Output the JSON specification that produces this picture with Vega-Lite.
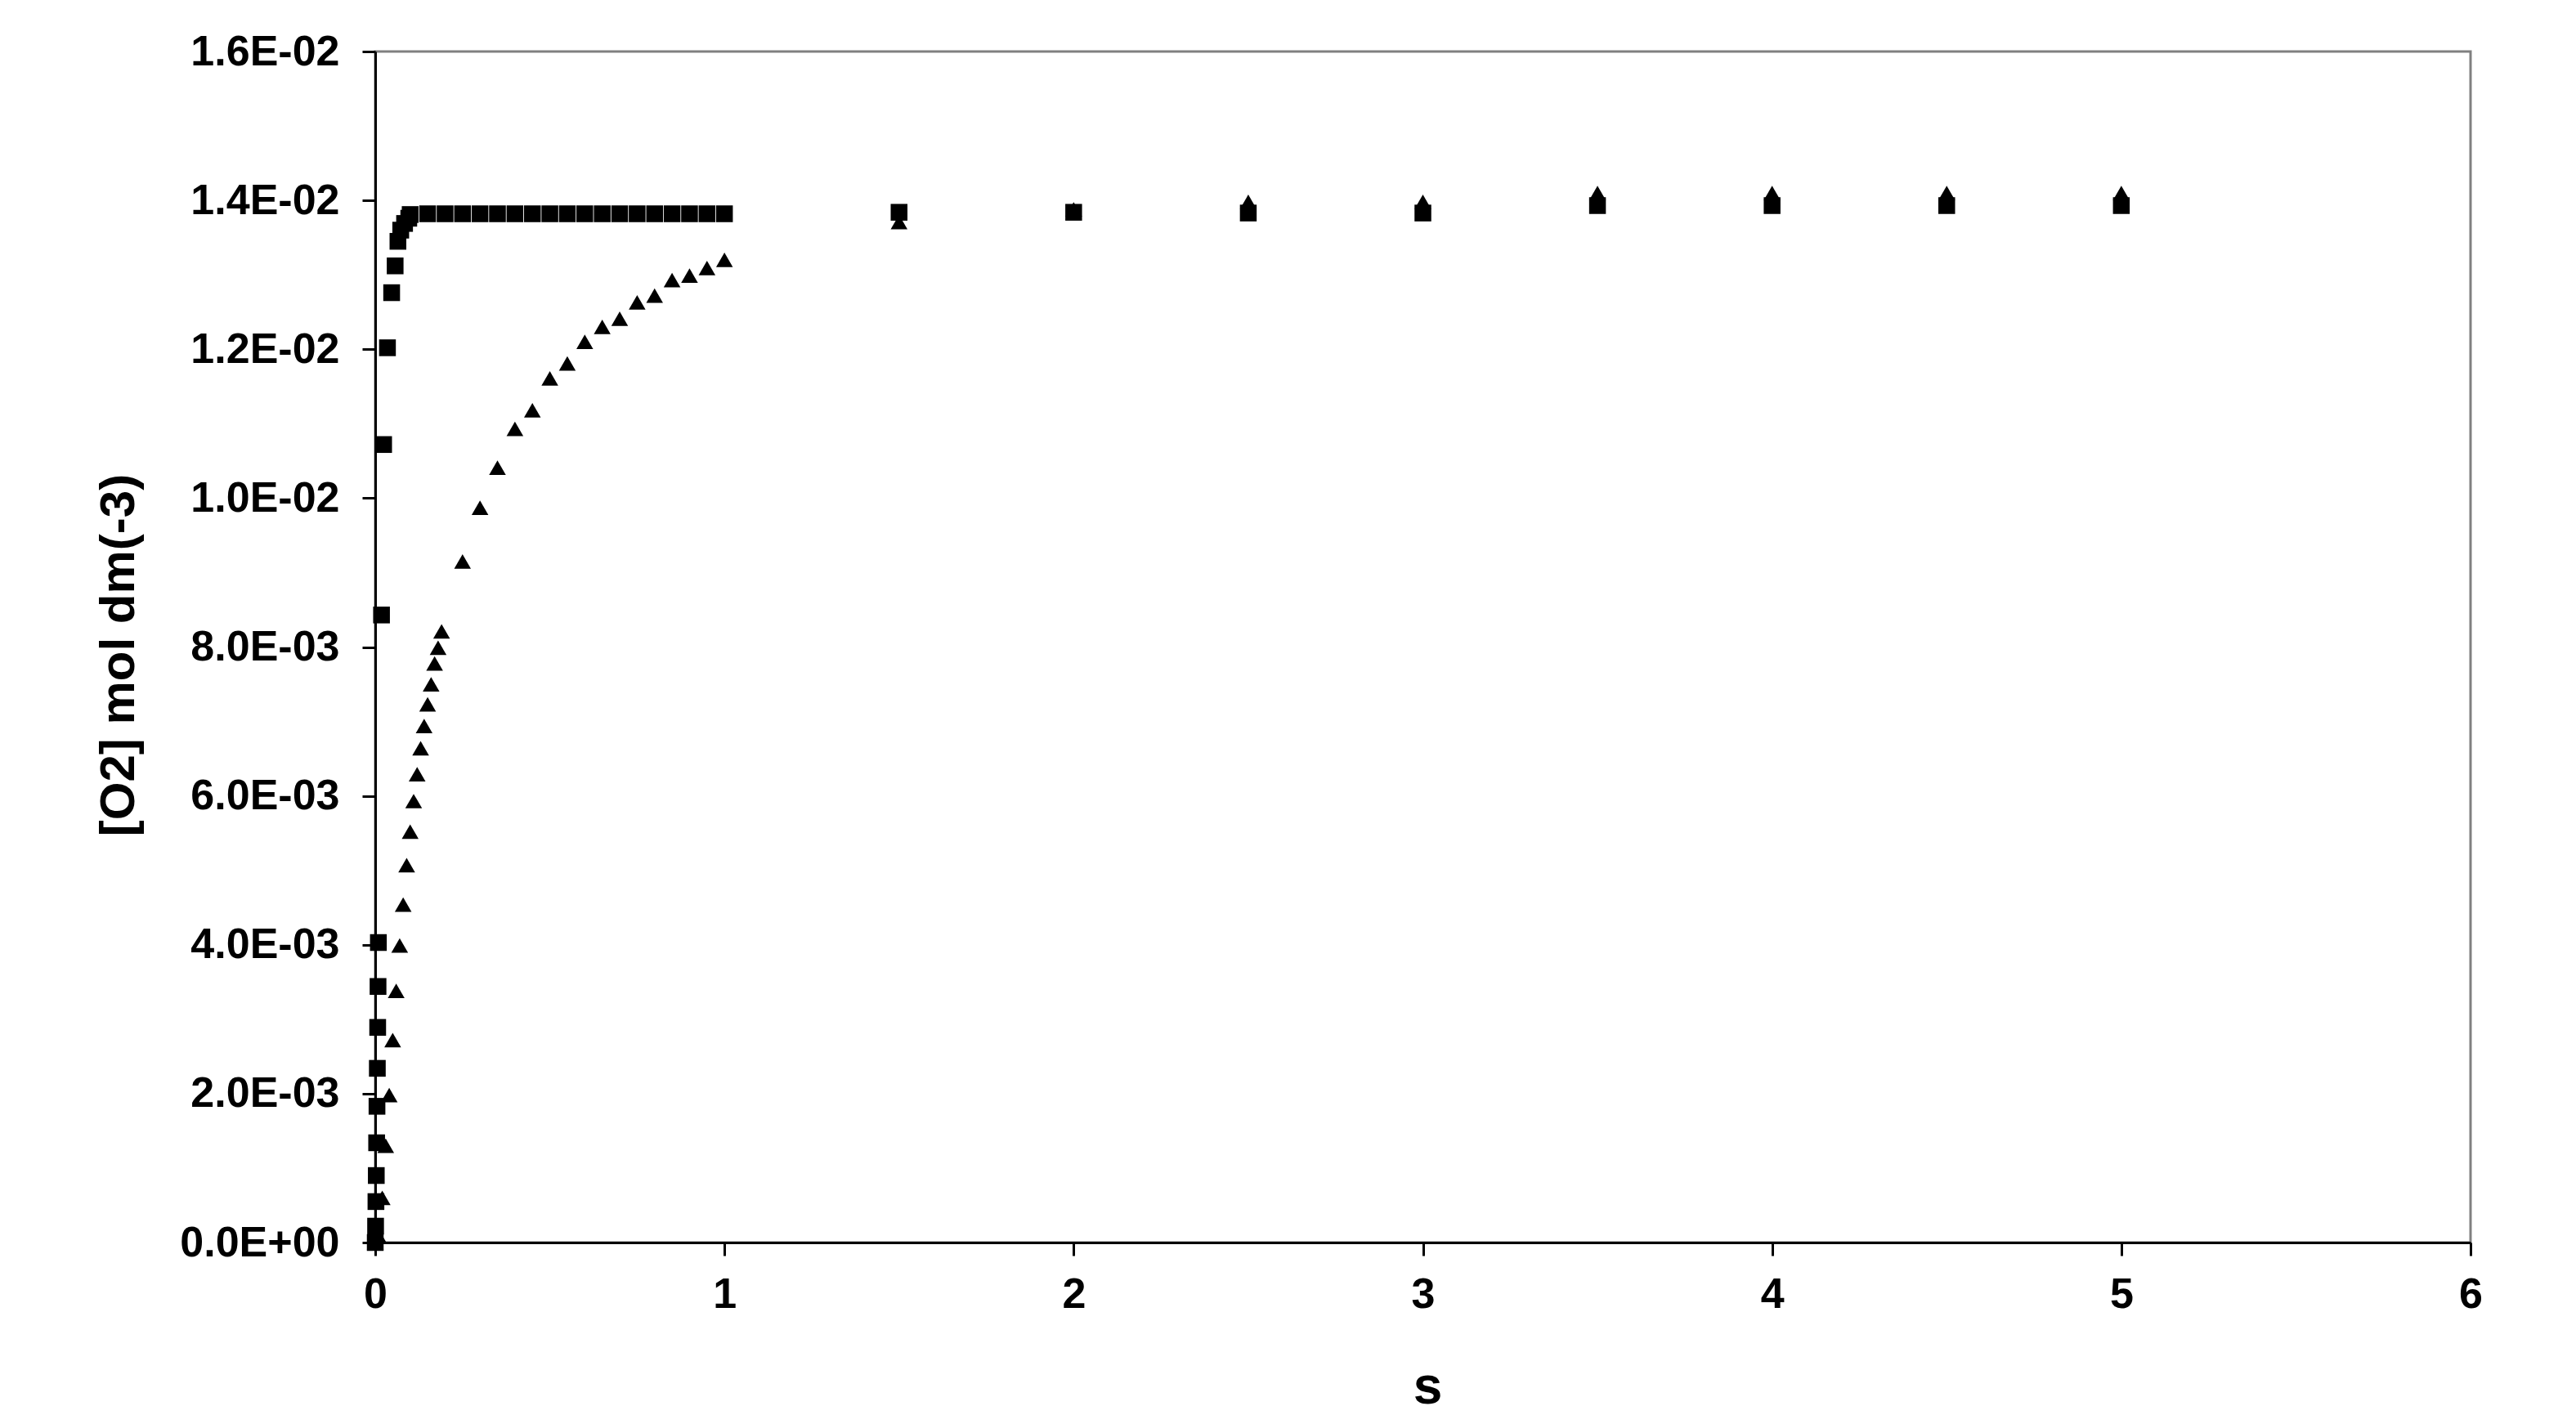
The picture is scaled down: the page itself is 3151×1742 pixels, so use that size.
{
  "$schema": "https://vega.github.io/schema/vega-lite/v6.json",
  "width": 2563,
  "height": 1457,
  "autosize": {"type": "none"},
  "padding": {"left": 459, "top": 63, "right": 129, "bottom": 222},
  "background": "white",
  "data": {
    "values": [
      {"s": 0.000, "o2": 0.00000, "series": "sq"},
      {"s": 0.001, "o2": 0.00022, "series": "sq"},
      {"s": 0.002, "o2": 0.00055, "series": "sq"},
      {"s": 0.003, "o2": 0.00090, "series": "sq"},
      {"s": 0.004, "o2": 0.00134, "series": "sq"},
      {"s": 0.005, "o2": 0.00183, "series": "sq"},
      {"s": 0.006, "o2": 0.00234, "series": "sq"},
      {"s": 0.007, "o2": 0.00289, "series": "sq"},
      {"s": 0.008, "o2": 0.00344, "series": "sq"},
      {"s": 0.009, "o2": 0.00403, "series": "sq"},
      {"s": 0.018, "o2": 0.00843, "series": "sq"},
      {"s": 0.024, "o2": 0.01072, "series": "sq"},
      {"s": 0.035, "o2": 0.01202, "series": "sq"},
      {"s": 0.047, "o2": 0.01276, "series": "sq"},
      {"s": 0.057, "o2": 0.01312, "series": "sq"},
      {"s": 0.065, "o2": 0.01345, "series": "sq"},
      {"s": 0.073, "o2": 0.01360, "series": "sq"},
      {"s": 0.084, "o2": 0.01369, "series": "sq"},
      {"s": 0.096, "o2": 0.01376, "series": "sq"},
      {"s": 0.10, "o2": 0.01381, "series": "sq"},
      {"s": 0.15, "o2": 0.01382, "series": "sq"},
      {"s": 0.20, "o2": 0.01382, "series": "sq"},
      {"s": 0.25, "o2": 0.01382, "series": "sq"},
      {"s": 0.30, "o2": 0.01382, "series": "sq"},
      {"s": 0.35, "o2": 0.01382, "series": "sq"},
      {"s": 0.40, "o2": 0.01382, "series": "sq"},
      {"s": 0.45, "o2": 0.01382, "series": "sq"},
      {"s": 0.50, "o2": 0.01382, "series": "sq"},
      {"s": 0.55, "o2": 0.01382, "series": "sq"},
      {"s": 0.60, "o2": 0.01382, "series": "sq"},
      {"s": 0.65, "o2": 0.01382, "series": "sq"},
      {"s": 0.70, "o2": 0.01382, "series": "sq"},
      {"s": 0.75, "o2": 0.01382, "series": "sq"},
      {"s": 0.80, "o2": 0.01382, "series": "sq"},
      {"s": 0.85, "o2": 0.01382, "series": "sq"},
      {"s": 0.90, "o2": 0.01382, "series": "sq"},
      {"s": 0.95, "o2": 0.01382, "series": "sq"},
      {"s": 1.00, "o2": 0.01382, "series": "sq"},
      {"s": 1.5, "o2": 0.01384, "series": "sq"},
      {"s": 2.0, "o2": 0.01384, "series": "sq"},
      {"s": 2.5, "o2": 0.01383, "series": "sq"},
      {"s": 3.0, "o2": 0.01383, "series": "sq"},
      {"s": 3.5, "o2": 0.01393, "series": "sq"},
      {"s": 4.0, "o2": 0.01393, "series": "sq"},
      {"s": 4.5, "o2": 0.01393, "series": "sq"},
      {"s": 5.0, "o2": 0.01393, "series": "sq"},
      {"s": 0.00, "o2": 0.00000, "series": "tri"},
      {"s": 0.01, "o2": 0.00008, "series": "tri"},
      {"s": 0.02, "o2": 0.00060, "series": "tri"},
      {"s": 0.03, "o2": 0.00130, "series": "tri"},
      {"s": 0.04, "o2": 0.00198, "series": "tri"},
      {"s": 0.05, "o2": 0.00272, "series": "tri"},
      {"s": 0.06, "o2": 0.00338, "series": "tri"},
      {"s": 0.07, "o2": 0.00399, "series": "tri"},
      {"s": 0.08, "o2": 0.00454, "series": "tri"},
      {"s": 0.09, "o2": 0.00507, "series": "tri"},
      {"s": 0.10, "o2": 0.00552, "series": "tri"},
      {"s": 0.11, "o2": 0.00593, "series": "tri"},
      {"s": 0.12, "o2": 0.00629, "series": "tri"},
      {"s": 0.13, "o2": 0.00664, "series": "tri"},
      {"s": 0.14, "o2": 0.00694, "series": "tri"},
      {"s": 0.15, "o2": 0.00723, "series": "tri"},
      {"s": 0.16, "o2": 0.00750, "series": "tri"},
      {"s": 0.17, "o2": 0.00778, "series": "tri"},
      {"s": 0.18, "o2": 0.00799, "series": "tri"},
      {"s": 0.19, "o2": 0.00821, "series": "tri"},
      {"s": 0.25, "o2": 0.00915, "series": "tri"},
      {"s": 0.30, "o2": 0.00987, "series": "tri"},
      {"s": 0.35, "o2": 0.01041, "series": "tri"},
      {"s": 0.40, "o2": 0.01093, "series": "tri"},
      {"s": 0.45, "o2": 0.01118, "series": "tri"},
      {"s": 0.50, "o2": 0.01161, "series": "tri"},
      {"s": 0.55, "o2": 0.01181, "series": "tri"},
      {"s": 0.60, "o2": 0.01210, "series": "tri"},
      {"s": 0.65, "o2": 0.01230, "series": "tri"},
      {"s": 0.70, "o2": 0.01241, "series": "tri"},
      {"s": 0.75, "o2": 0.01263, "series": "tri"},
      {"s": 0.80, "o2": 0.01272, "series": "tri"},
      {"s": 0.85, "o2": 0.01293, "series": "tri"},
      {"s": 0.90, "o2": 0.01299, "series": "tri"},
      {"s": 0.95, "o2": 0.01309, "series": "tri"},
      {"s": 1.00, "o2": 0.01320, "series": "tri"},
      {"s": 1.5, "o2": 0.01371, "series": "tri"},
      {"s": 2.0, "o2": 0.01388, "series": "tri"},
      {"s": 2.5, "o2": 0.01398, "series": "tri"},
      {"s": 3.0, "o2": 0.01398, "series": "tri"},
      {"s": 3.5, "o2": 0.01410, "series": "tri"},
      {"s": 4.0, "o2": 0.01410, "series": "tri"},
      {"s": 4.5, "o2": 0.01410, "series": "tri"},
      {"s": 5.0, "o2": 0.01410, "series": "tri"}
    ]
  },
  "mark": {"type": "point", "filled": true, "opacity": 1, "size": 420, "color": "black", "clip": false},
  "encoding": {
    "x": {
      "field": "s",
      "type": "quantitative",
      "scale": {"domain": [0, 6], "nice": false, "zero": false},
      "axis": {
        "title": "s",
        "values": [0, 1, 2, 3, 4, 5, 6],
        "format": "d",
        "titleFontSize": 64,
        "titleX": 1287,
        "titleY": 196,
        "titleBaseline": "alphabetic",
        "labelPadding": 22
      }
    },
    "y": {
      "field": "o2",
      "type": "quantitative",
      "scale": {"domain": [0, 0.016], "nice": false},
      "axis": {
        "title": "[O2] mol dm(-3)",
        "values": [0, 0.002, 0.004, 0.006, 0.008, 0.01, 0.012, 0.014, 0.016],
        "labelExpr": "replace(upper(format(datum.value, '.1e')), regexp('E([+-])(\\\\d)$'), 'E$10$2')",
        "labelLimit": 0,
        "titleFontSize": 60,
        "titleX": -296,
        "titleY": 738,
        "titleBaseline": "alphabetic",
        "labelPadding": 28
      }
    },
    "shape": {
      "field": "series",
      "type": "nominal",
      "scale": {"domain": ["sq", "tri"], "range": ["square", "triangle-up"]},
      "legend": null
    }
  },
  "config": {
    "font": "Liberation Sans",
    "view": {"stroke": "#808080", "strokeWidth": 3},
    "axis": {
      "grid": false,
      "domainColor": "black",
      "domainWidth": 3,
      "tickColor": "black",
      "tickWidth": 3,
      "tickSize": 16,
      "labelFont": "Liberation Sans",
      "labelFontSize": 52,
      "labelFontWeight": "bold",
      "labelColor": "black",
      "labelOverlap": false,
      "labelFlush": false,
      "labelLimit": 0,
      "titleFont": "Liberation Sans",
      "titleFontWeight": "bold",
      "titleColor": "black"
    }
  }
}
